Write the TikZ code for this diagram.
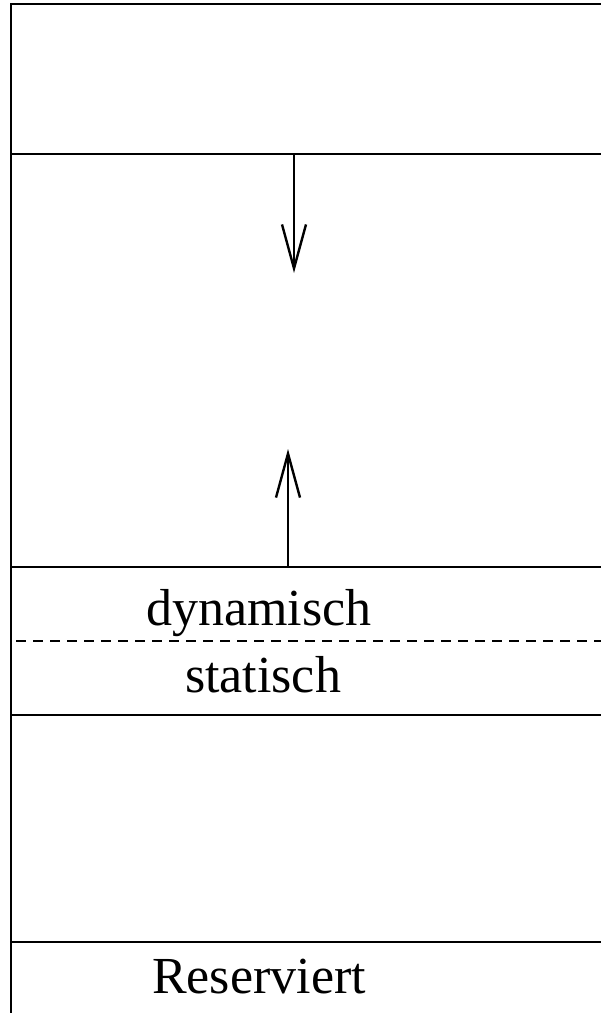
\documentclass[tikz,border=0pt]{standalone}
\usepackage{fontspec}
\setmainfont{Liberation Serif}
\usetikzlibrary{arrows.meta}
\begin{document}
\begin{tikzpicture}[x=1pt,y=-1pt,
  rule/.style={line width=1.4pt,line cap=rect},
  dashrule/.style={line width=1.4pt,dash pattern=on 10pt off 7pt},
  arr/.style={line width=1.4pt,-{Straight Barb[length=44pt,width=24pt,line width=2.4pt]}},
  lbl/.style={font=\fontsize{52}{60}\selectfont,inner sep=0pt,anchor=base}]
\useasboundingbox (0,0) rectangle (601,1013);
\fill[white] (0,0) rectangle (601,1013);
\coordinate (tl) at (11,4);
\coordinate (tr) at (601,4);
\coordinate (bl) at (11,1013);
\draw[rule] (tr) -- (tl) -- (bl);
\draw[rule] (11,154) -- (601,154);
\draw[rule] (11,567) -- (601,567);
\draw[rule] (11,715) -- (601,715);
\draw[rule] (11,942) -- (601,942);
\draw[dashrule] (16,641) -- (601,641);
\coordinate (a1s) at (294,154);
\coordinate (a1e) at (294,273);
\coordinate (a2s) at (288,567);
\coordinate (a2e) at (288,449);
\draw[arr] (a1s) -- (a1e);
\draw[arr] (a2s) -- (a2e);
\node[lbl] (dyn) at (259,625) {dynamisch};
\node[lbl] (stat) at (263,692) {statisch};
\node[lbl] (res) at (259,993) {Reserviert};
\end{tikzpicture}
\end{document}
